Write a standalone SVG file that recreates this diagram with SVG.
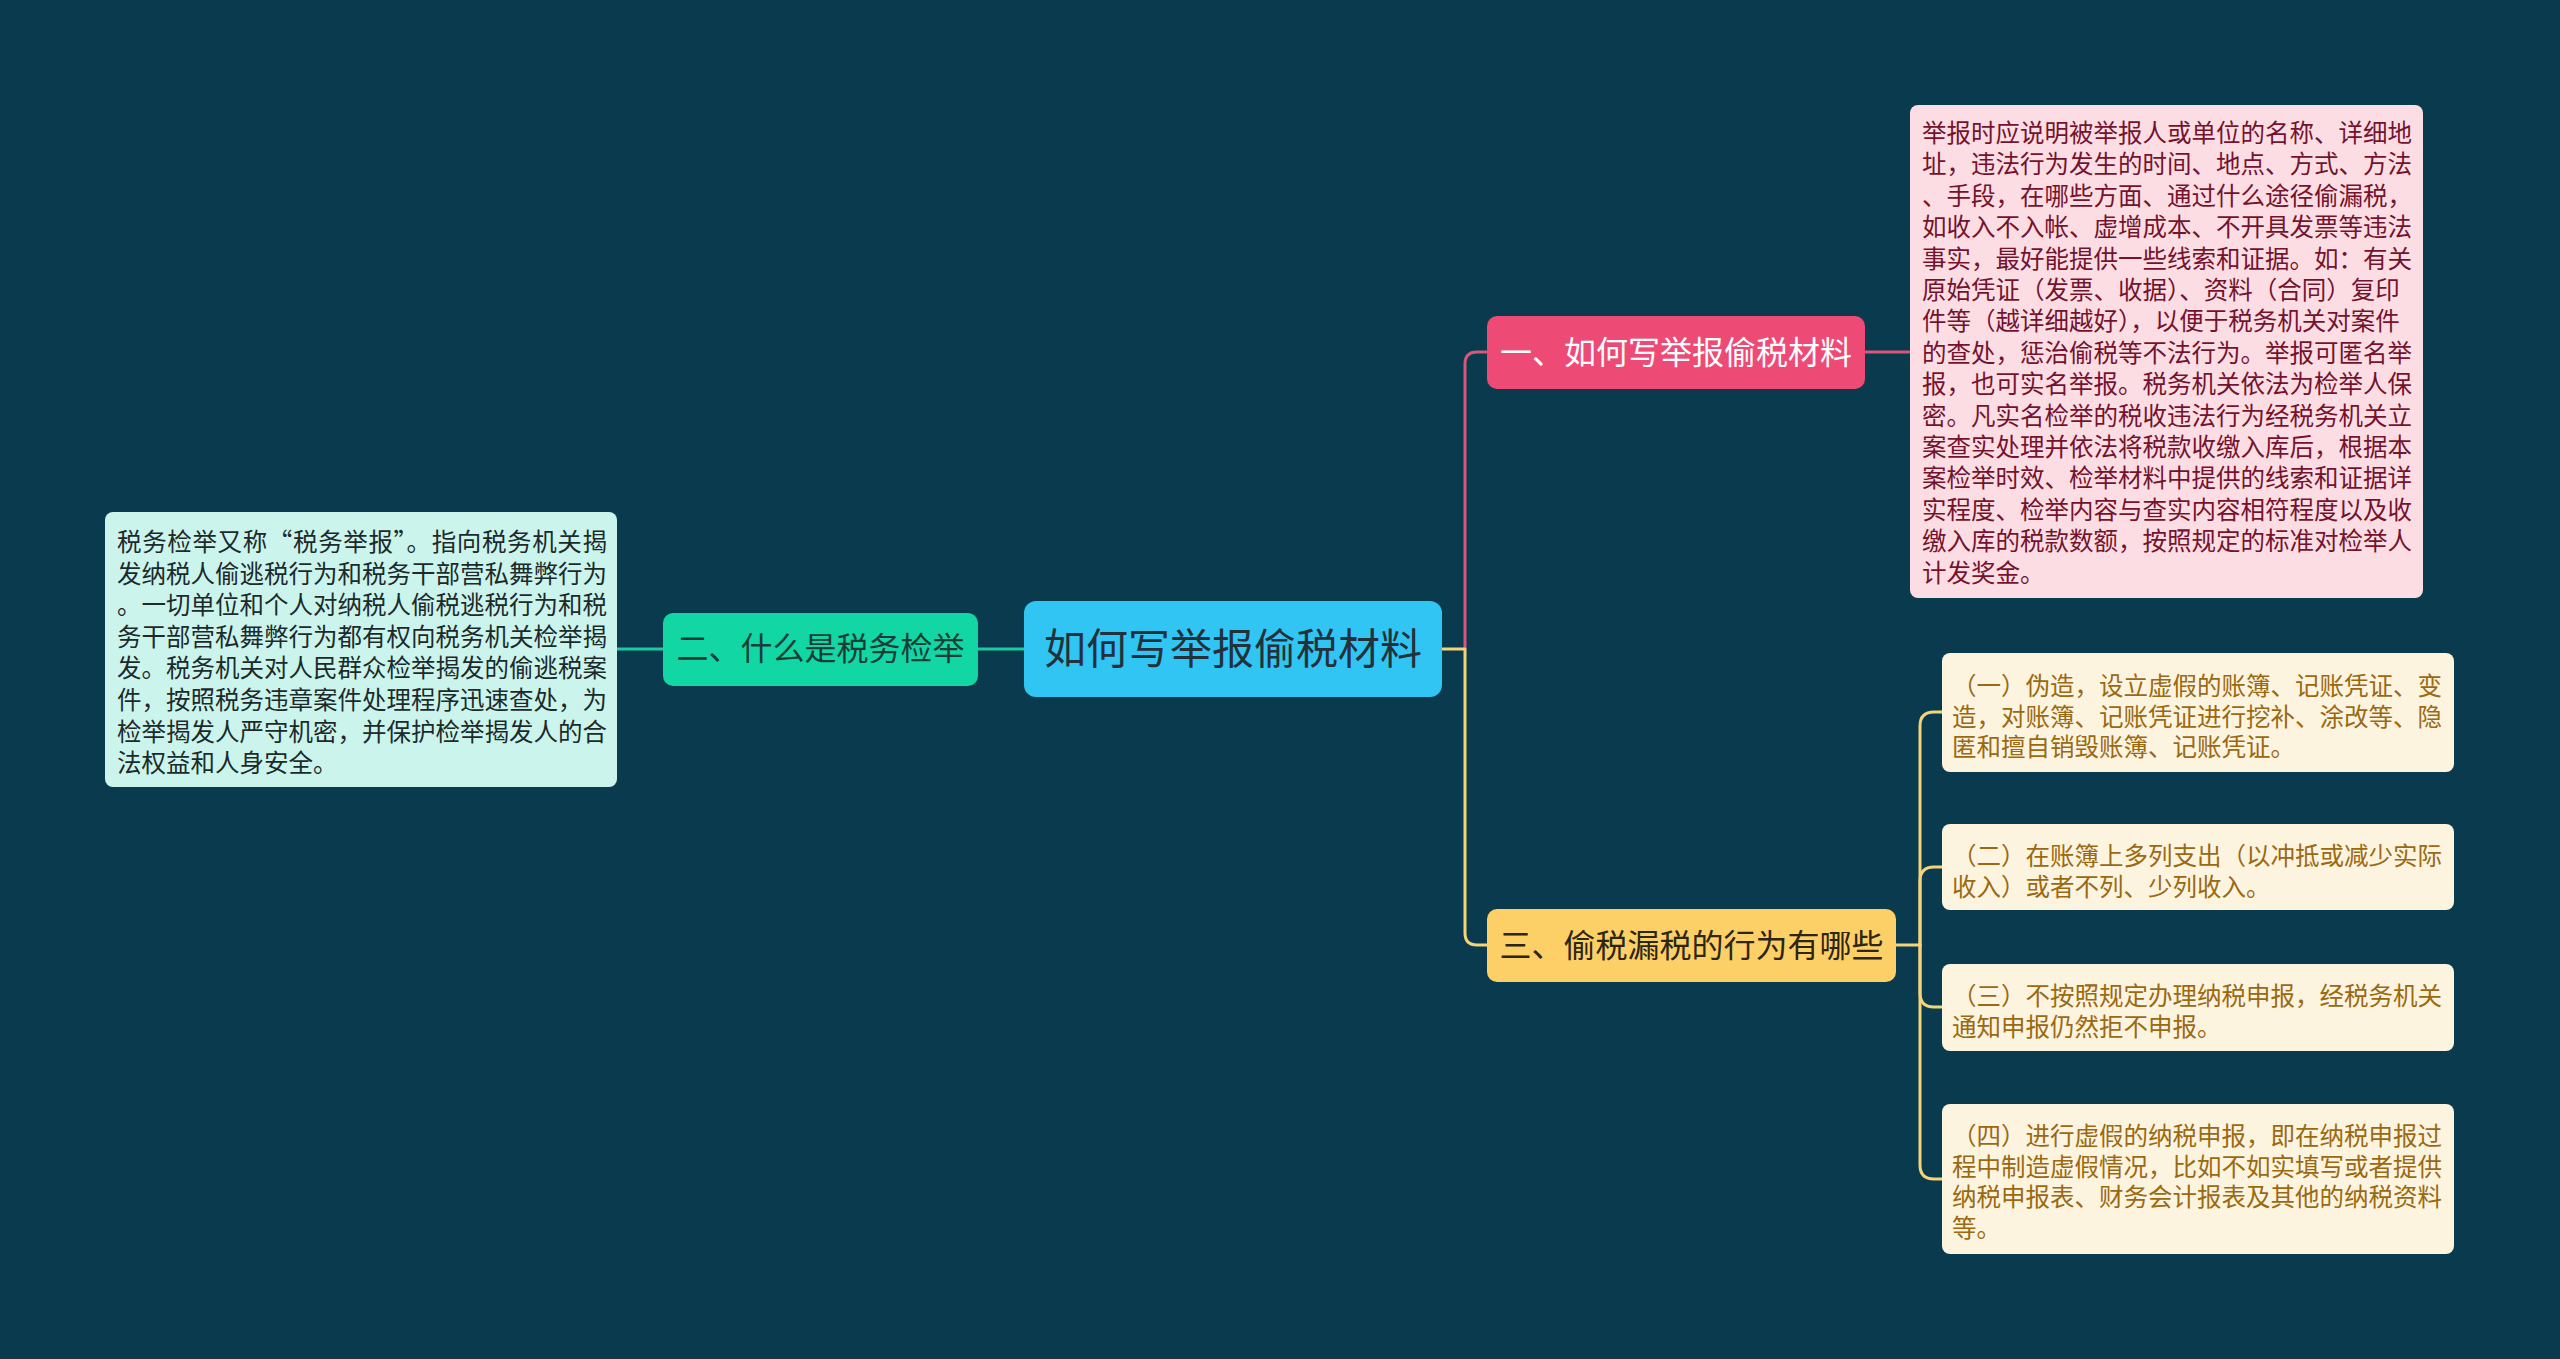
<svg xmlns="http://www.w3.org/2000/svg" width="2560" height="1359" viewBox="0 0 2560 1359">
<style>
text{font-family:"Noto Sans CJK SC","Liberation Sans",sans-serif;}
.conn{fill:none;stroke-width:3;stroke-linecap:round;stroke-linejoin:round;}
.t-main{font-size:42px;fill:#23313b;}
.t-sub{font-size:32px;}
.t-det{font-size:24.5px;}
</style>
<rect width="2560" height="1359" fill="#093a4d"/>
<g id="connectors">
  <path class="conn" stroke="#1ec8a0" d="M617,649 H1024"/>
  <path class="conn" stroke="#d9567b" d="M1465,649 V364 Q1465,352 1477,352 H1487"/>
  <path class="conn" stroke="#d9567b" d="M1865,352 H1910"/>
  <path class="conn" stroke="#f3d47a" d="M1442,649 H1465 V933 Q1465,945 1477,945 H1487"/>
  <path class="conn" stroke="#f3d47a" d="M1896,945 H1920"/>
  <path class="conn" stroke="#f3d47a" d="M1920,945 V726 Q1920,712 1934,712 H1942"/>
  <path class="conn" stroke="#f3d47a" d="M1920,945 V881 Q1920,867 1934,867 H1942"/>
  <path class="conn" stroke="#f3d47a" d="M1920,945 V993 Q1920,1007 1934,1007 H1942"/>
  <path class="conn" stroke="#f3d47a" d="M1920,945 V1165 Q1920,1179 1934,1179 H1942"/>
</g>
<g id="center">
  <rect x="1024" y="601" width="418" height="96" rx="12" fill="#31c5f4"/>
  <text class="t-main" x="1233" y="664" text-anchor="middle">如何写举报偷税材料</text>
</g>
<g id="node1">
  <rect x="1487" y="316" width="378" height="73" rx="10" fill="#ee4a76"/>
  <text class="t-sub" x="1676" y="364" text-anchor="middle" fill="#ffffff">一、如何写举报偷税材料</text>
</g>
<g id="node2">
  <rect x="663" y="613" width="315" height="73" rx="10" fill="#12d7a5"/>
  <text class="t-sub" x="820.5" y="660" text-anchor="middle" fill="#183d36">二、什么是税务检举</text>
</g>
<g id="node3">
  <rect x="1487" y="909" width="409" height="73" rx="10" fill="#fdcf67"/>
  <text class="t-sub" x="1691.5" y="957" text-anchor="middle" fill="#2c2612">三、偷税漏税的行为有哪些</text>
</g>
<g id="detail1">
  <rect x="1910" y="105" width="513" height="493" rx="8" fill="#fcdde3"/>
  <text class="t-det" fill="#74132e">
    <tspan x="1922" y="142">举报时应说明被举报人或单位的名称、详细地</tspan>
    <tspan x="1922" dy="31.4">址，违法行为发生的时间、地点、方式、方法</tspan>
    <tspan x="1922" dy="31.4">、手段，在哪些方面、通过什么途径偷漏税，</tspan>
    <tspan x="1922" dy="31.4">如收入不入帐、虚增成本、不开具发票等违法</tspan>
    <tspan x="1922" dy="31.4">事实，最好能提供一些线索和证据。如：有关</tspan>
    <tspan x="1922" dy="31.4">原始凭证（发票、收据）、资料（合同）复印</tspan>
    <tspan x="1922" dy="31.4">件等（越详细越好），以便于税务机关对案件</tspan>
    <tspan x="1922" dy="31.4">的查处，惩治偷税等不法行为。举报可匿名举</tspan>
    <tspan x="1922" dy="31.4">报，也可实名举报。税务机关依法为检举人保</tspan>
    <tspan x="1922" dy="31.4">密。凡实名检举的税收违法行为经税务机关立</tspan>
    <tspan x="1922" dy="31.4">案查实处理并依法将税款收缴入库后，根据本</tspan>
    <tspan x="1922" dy="31.4">案检举时效、检举材料中提供的线索和证据详</tspan>
    <tspan x="1922" dy="31.4">实程度、检举内容与查实内容相符程度以及收</tspan>
    <tspan x="1922" dy="31.4">缴入库的税款数额，按照规定的标准对检举人</tspan>
    <tspan x="1922" dy="31.4">计发奖金。</tspan>
  </text>
</g>
<g id="detail2">
  <rect x="105" y="512" width="512" height="275" rx="8" fill="#cbf5ec"/>
  <text class="t-det" fill="#1c2a2b" x="117" y="551" textLength="490" lengthAdjust="spacing">税务检举又称“税务举报”。指向税务机关揭</text>
  <text class="t-det" fill="#1c2a2b">
    <tspan x="117" y="582.6">发纳税人偷逃税行为和税务干部营私舞弊行为</tspan>
    <tspan x="117" dy="31.6">。一切单位和个人对纳税人偷税逃税行为和税</tspan>
    <tspan x="117" dy="31.6">务干部营私舞弊行为都有权向税务机关检举揭</tspan>
    <tspan x="117" dy="31.6">发。税务机关对人民群众检举揭发的偷逃税案</tspan>
    <tspan x="117" dy="31.6">件，按照税务违章案件处理程序迅速查处，为</tspan>
    <tspan x="117" dy="31.6">检举揭发人严守机密，并保护检举揭发人的合</tspan>
    <tspan x="117" dy="31.6">法权益和人身安全。</tspan>
  </text>
</g>
<g id="detail3a">
  <rect x="1942" y="653" width="512" height="119" rx="8" fill="#fdf4df"/>
  <text class="t-det" fill="#9a6912">
    <tspan x="1952" y="695">（一）伪造，设立虚假的账簿、记账凭证、变</tspan>
    <tspan x="1952" dy="30.7">造，对账簿、记账凭证进行挖补、涂改等、隐</tspan>
    <tspan x="1952" dy="30.7">匿和擅自销毁账簿、记账凭证。</tspan>
  </text>
</g>
<g id="detail3b">
  <rect x="1942" y="824" width="512" height="86" rx="8" fill="#fdf4df"/>
  <text class="t-det" fill="#9a6912">
    <tspan x="1952" y="865">（二）在账簿上多列支出（以冲抵或减少实际</tspan>
    <tspan x="1952" dy="30.7">收入）或者不列、少列收入。</tspan>
  </text>
</g>
<g id="detail3c">
  <rect x="1942" y="964" width="512" height="87" rx="8" fill="#fdf4df"/>
  <text class="t-det" fill="#9a6912">
    <tspan x="1952" y="1005">（三）不按照规定办理纳税申报，经税务机关</tspan>
    <tspan x="1952" dy="30.7">通知申报仍然拒不申报。</tspan>
  </text>
</g>
<g id="detail3d">
  <rect x="1942" y="1104" width="512" height="150" rx="8" fill="#fdf4df"/>
  <text class="t-det" fill="#9a6912">
    <tspan x="1952" y="1145">（四）进行虚假的纳税申报，即在纳税申报过</tspan>
    <tspan x="1952" dy="30.5">程中制造虚假情况，比如不如实填写或者提供</tspan>
    <tspan x="1952" dy="30.5">纳税申报表、财务会计报表及其他的纳税资料</tspan>
    <tspan x="1952" dy="30.5">等。</tspan>
  </text>
</g>
</svg>
